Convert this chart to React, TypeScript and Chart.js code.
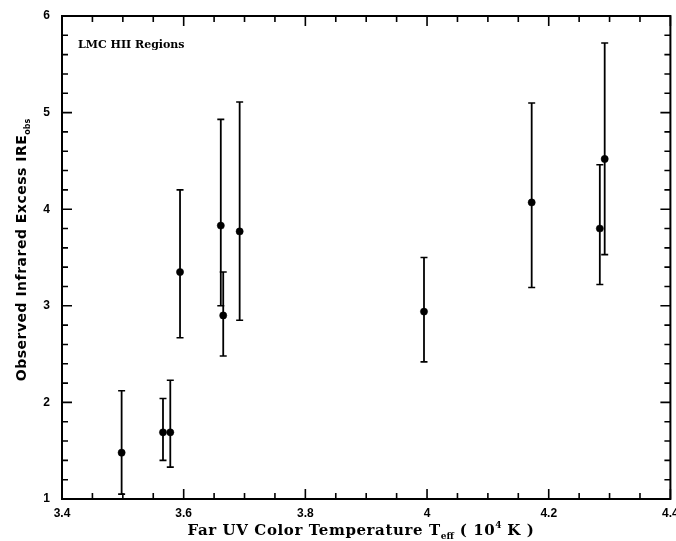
import React, { useEffect, useRef } from "react";
import { Chart, registerables } from "chart.js";

Chart.register(...registerables);

const tempValues = [3.498, 3.566, 3.578, 3.594, 3.661, 3.665, 3.692, 3.995, 4.172, 4.284, 4.292];
const ireValues = [1.48, 1.69, 1.69, 3.35, 3.83, 2.9, 3.77, 2.94, 4.07, 3.8, 4.52];
const ireUpper = [2.12, 2.04, 2.23, 4.2, 4.93, 3.35, 5.11, 3.5, 5.1, 4.46, 5.72];
const ireLower = [1.05, 1.4, 1.33, 2.67, 3.0, 2.48, 2.85, 2.42, 3.19, 3.22, 3.53];

const xMin = 3.4;
const xMax = 4.4;
const yMin = 1;
const yMax = 6;
const annotationText = "LMC HII Regions";

type Piece = { t: string; mode?: "sub" | "sup" };
const xTitle: Piece[] = [
  { t: "Far UV Color Temperature T" },
  { t: "eff", mode: "sub" },
  { t: " ( 10" },
  { t: "4", mode: "sup" },
  { t: " K )" },
];
const yTitle: Piece[] = [{ t: "Observed Infrared Excess IRE" }, { t: "obs", mode: "sub" }];

function drawPieces(
  ctx: CanvasRenderingContext2D,
  pieces: Piece[],
  cx: number,
  baseline: number,
  family: string,
  size: number,
  spacing: number
) {
  const small = Math.round(size * 0.6);
  const fontFor = (p: Piece) => `bold ${p.mode ? small : size}px ${family}`;
  let total = 0;
  const widths: number[] = [];
  for (const p of pieces) {
    ctx.font = fontFor(p);
    (ctx as any).letterSpacing = p.mode ? "0px" : `${spacing}px`;
    const w = ctx.measureText(p.t).width;
    widths.push(w);
    total += w;
  }
  let x = cx - total / 2;
  ctx.textAlign = "left";
  ctx.textBaseline = "alphabetic";
  pieces.forEach((p, i) => {
    ctx.font = fontFor(p);
    (ctx as any).letterSpacing = p.mode ? "0px" : `${spacing}px`;
    let y = baseline;
    if (p.mode === "sub") y += size * 0.25;
    if (p.mode === "sup") y -= size * 0.5;
    ctx.fillText(p.t, x, y);
    x += widths[i];
  });
  (ctx as any).letterSpacing = "0px";
}

const framePlugin = {
  id: "framePlugin",
  afterDraw(chart: any) {
    const { ctx, chartArea: ca, scales } = chart;
    const xs = scales.x;
    const ys = scales.y;
    ctx.save();
    ctx.strokeStyle = "#000";
    ctx.fillStyle = "#000";
    ctx.lineWidth = 2;
    ctx.strokeRect(ca.left, ca.top, ca.right - ca.left, ca.bottom - ca.top);

    ctx.lineWidth = 1.6;
    ctx.beginPath();
    for (let i = 0; i <= 20; i++) {
      const v = xMin + i * 0.05;
      const px = xs.getPixelForValue(v);
      const len = i % 4 === 0 ? 10 : 6;
      ctx.moveTo(px, ca.bottom);
      ctx.lineTo(px, ca.bottom - len);
      ctx.moveTo(px, ca.top);
      ctx.lineTo(px, ca.top + len);
    }
    for (let i = 0; i <= 25; i++) {
      const v = yMin + i * 0.2;
      const py = ys.getPixelForValue(v);
      const len = i % 5 === 0 ? 10 : 6;
      ctx.moveTo(ca.left, py);
      ctx.lineTo(ca.left + len, py);
      ctx.moveTo(ca.right, py);
      ctx.lineTo(ca.right - len, py);
    }
    ctx.stroke();

    // annotation
    ctx.font = "bold 11px 'DejaVu Serif'";
    ctx.textAlign = "left";
    ctx.textBaseline = "middle";
    ctx.fillText(annotationText, 78, 45);

    // x title
    drawPieces(ctx, xTitle, 361, 535, "'DejaVu Serif'", 15, 0.6);

    // y title
    ctx.save();
    ctx.translate(26, 250);
    ctx.rotate(-Math.PI / 2);
    drawPieces(ctx, yTitle, 0, 0, "'DejaVu Sans'", 14, 0.5);
    ctx.restore();

    ctx.restore();
  },
};

export default function App() {
  const canvasRef = useRef<HTMLCanvasElement | null>(null);

  useEffect(() => {
    const canvas = canvasRef.current;
    if (!canvas) return;

    const errorSets = tempValues.map((t, i) => ({
      data: [
        { x: t, y: ireLower[i] },
        { x: t, y: ireUpper[i] },
      ],
      showLine: true,
      borderColor: "#000",
      borderWidth: 1.8,
      pointStyle: "line" as const,
      pointRadius: 3.5,
      pointBorderWidth: 1.6,
      pointBorderColor: "#000",
      pointBackgroundColor: "#000",
    }));

    const pointSet = {
      data: tempValues.map((t, i) => ({ x: t, y: ireValues[i] })),
      showLine: false,
      pointStyle: "circle" as const,
      pointRadius: 3.6,
      pointBackgroundColor: "#000",
      pointBorderColor: "#000",
      pointBorderWidth: 0.5,
    };

    const chart = new Chart(canvas, {
      type: "scatter",
      data: { datasets: [...errorSets, pointSet] as any },
      options: {
        responsive: false,
        animation: false,
        devicePixelRatio: 1,
        layout: { padding: { left: 0, top: 16, right: 4, bottom: 0 } },
        plugins: { legend: { display: false }, tooltip: { enabled: false } },
        scales: {
          x: {
            type: "linear",
            min: xMin,
            max: xMax,
            grid: { display: false, drawTicks: false },
            border: { display: false },
            ticks: {
              stepSize: 0.2,
              padding: 7,
              color: "#000",
              font: { family: "'Liberation Sans'", size: 12, weight: "bold" },
              maxRotation: 0,
              callback: (v: any) => String(Math.round(Number(v) * 10) / 10),
            },
            afterFit: (s: any) => {
              s.height = 42;
              s.paddingLeft = 0;
              s.paddingRight = 0;
            },
          },
          y: {
            type: "linear",
            min: yMin,
            max: yMax,
            grid: { display: false, drawTicks: false },
            border: { display: false },
            ticks: {
              stepSize: 1,
              padding: 12,
              color: "#000",
              font: { family: "'Liberation Sans'", size: 12, weight: "bold" },
              callback: (v: any) => String(v),
            },
            afterFit: (s: any) => {
              s.width = 62;
              s.paddingTop = 0;
              s.paddingBottom = 0;
            },
          },
        },
      },
      plugins: [framePlugin],
    });

    return () => chart.destroy();
  }, []);

  return (
    <div style={{ position: "fixed", left: 0, top: 0, width: 676, height: 541, background: "#fff" }}>
      <canvas ref={canvasRef} width={676} height={541} />
    </div>
  );
}
